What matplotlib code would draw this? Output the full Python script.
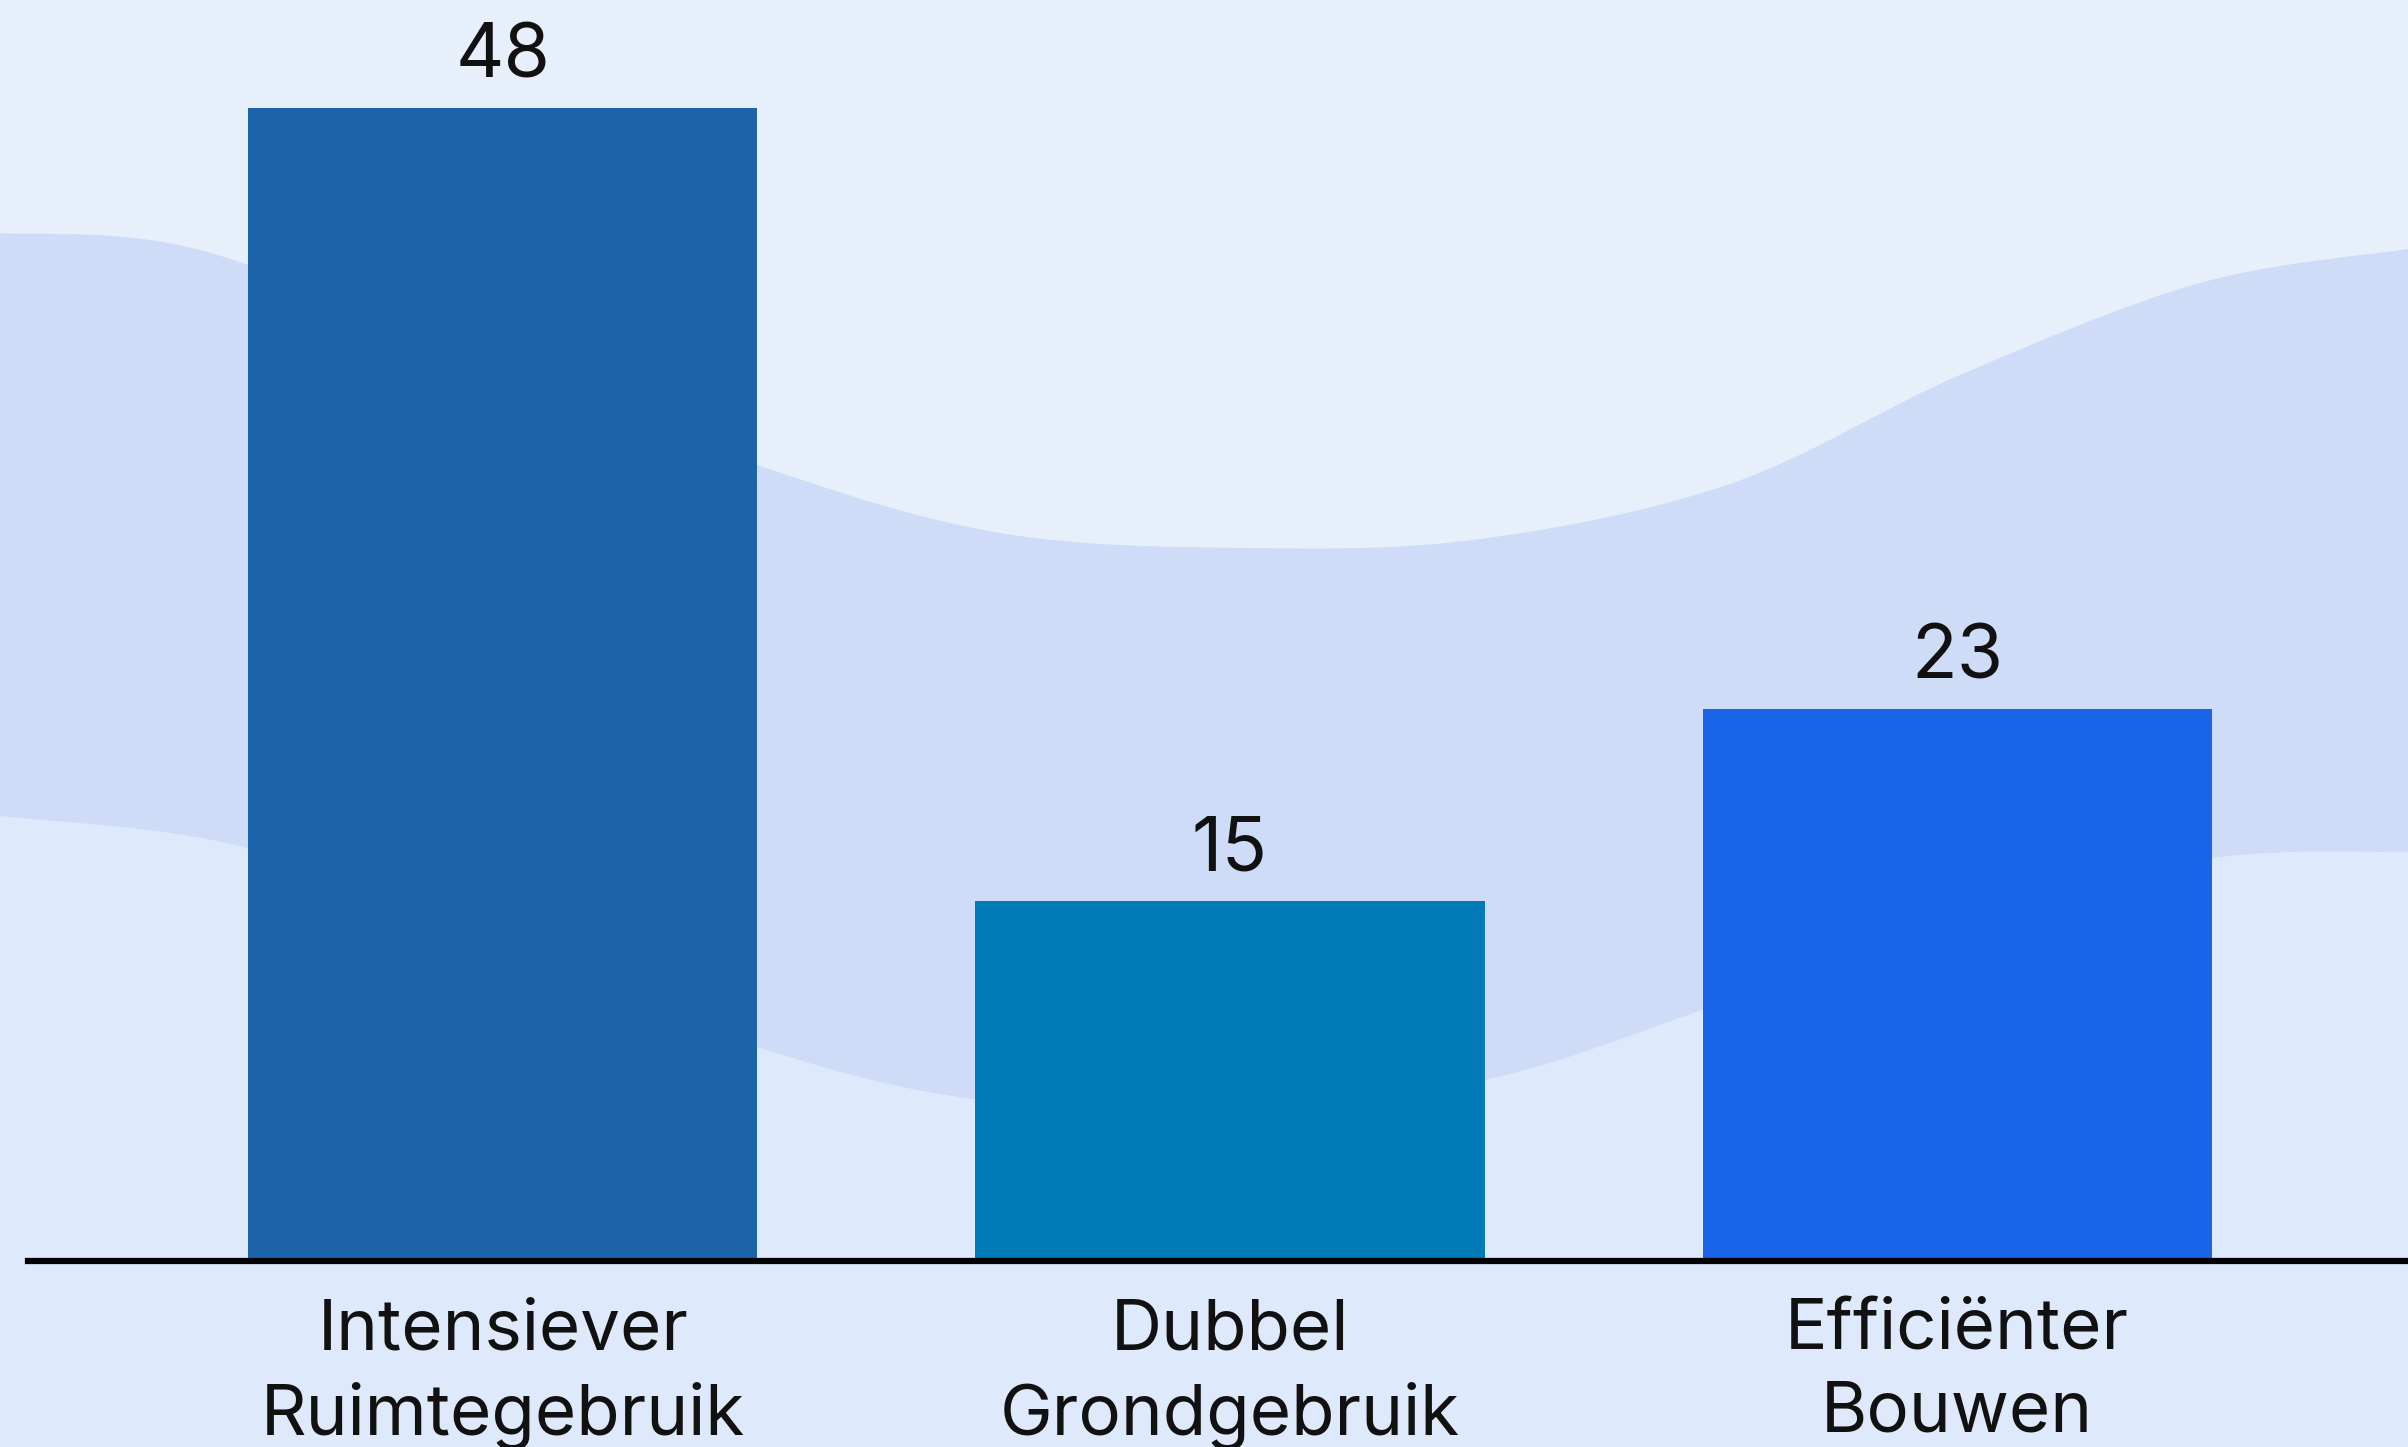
import numpy as np
import matplotlib.pyplot as plt
from matplotlib.path import Path
from matplotlib.patches import PathPatch

# Data
categories = ["Intensiever\nRuimtegebruik", "Dubbel\nGrondgebruik", "Efficiënter\nBouwen"]
values = [48, 15, 23]
bar_colors = ["#1c64a9", "#007bb8", "#1a64e8"]

# Background wave outlines (figure pixels, y measured from top)
wave_top_x = [0, 200, 500, 757, 1000, 1250, 1480, 1730, 1960, 2200, 2408]
wave_top_y = [233, 250, 365, 465, 533, 548, 539, 484, 375, 283, 249]
wave_low_x = [0, 247, 500, 757, 973, 1230, 1480, 1702, 1957, 2213, 2408]
wave_low_y = [816, 848, 950, 1047, 1099, 1110, 1081, 1010, 915, 858, 852]

W, H = 2408, 1447
plt.rcParams["font.family"] = ["Inter", "DejaVu Sans"]


def wave_patch(xs, ys, color):
    pts = np.column_stack([xs, ys]).astype(float)
    verts = [pts[0]]
    codes = [Path.MOVETO]
    n = len(pts)
    for i in range(n - 1):
        p0, p1 = pts[max(i - 1, 0)], pts[i]
        p2, p3 = pts[i + 1], pts[min(i + 2, n - 1)]
        verts += [p1 + (p2 - p0) / 6, p2 - (p3 - p1) / 6, p2]
        codes += [Path.CURVE4] * 3
    verts += [(W, H), (0, H), pts[0]]
    codes += [Path.LINETO, Path.LINETO, Path.CLOSEPOLY]
    return PathPatch(Path(verts, codes), facecolor=color, edgecolor="none")


fig = plt.figure(figsize=(W / 100, H / 100), dpi=100)
fig.patch.set_facecolor("#e7effb")

bg = fig.add_axes([0, 0, 1, 1], zorder=0)
bg.set_xlim(0, W)
bg.set_ylim(H, 0)
bg.axis("off")
bg.add_patch(wave_patch(wave_top_x, wave_top_y, "#cedcf7"))
bg.add_patch(wave_patch(wave_low_x, wave_low_y, "#dfe9fc"))

ax = fig.add_axes([28 / W, (H - 1261) / H, 1 - 28 / W, 1261 / H], zorder=1)
ax.patch.set_visible(False)
x = np.arange(len(values))
ax.bar(x, values, width=0.7, color=bar_colors, zorder=2)

for xi, v in zip(x, values):
    ax.annotate(str(v), (xi, v), xytext=(0, 22), textcoords="offset points",
                ha="center", va="baseline", fontsize=54, color="#111111")

ax.set_xlim(-0.653, 2.62)
ax.set_ylim(0, 52.5)
ax.set_xticks(x)
ax.set_xticklabels(categories, fontsize=51, linespacing=1.33, color="#111111")
ax.tick_params(axis="x", length=0, pad=27)
ax.set_yticks([])
for side in ["top", "left", "right"]:
    ax.spines[side].set_visible(False)
ax.spines["bottom"].set_linewidth(4.5)
ax.spines["bottom"].set_color("black")
ax.spines["bottom"].set_zorder(3)

plt.savefig("out.png", dpi=100, facecolor=fig.get_facecolor())
